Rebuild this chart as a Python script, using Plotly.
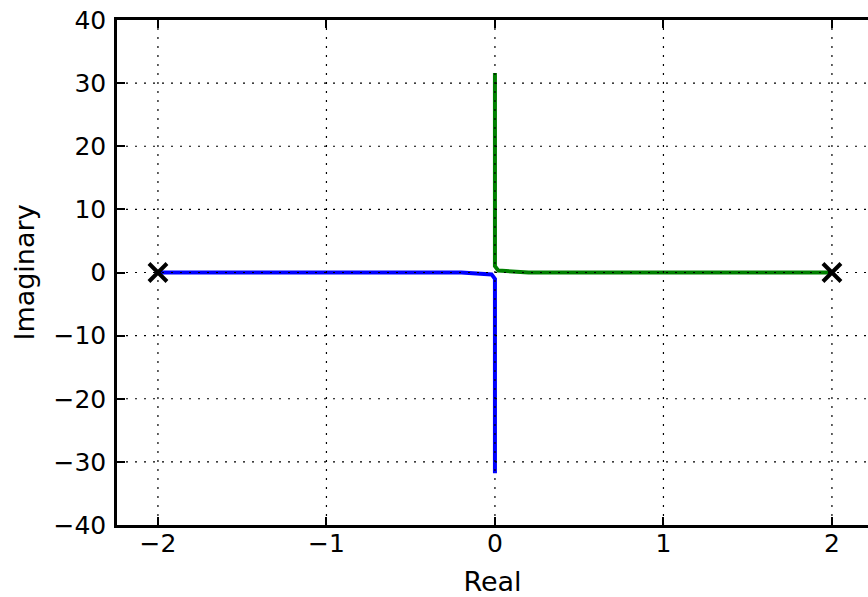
import plotly.graph_objects as go

# Root locus branches (real, imaginary)
blue_re = [-2.0, -1.0, -0.2, -0.02, 0.0, 0.0]
blue_im = [0.0, 0.0, 0.0, -0.3, -1.0, -31.8]
green_re = [2.0, 1.0, 0.2, 0.02, 0.0, 0.0]
green_im = [0.0, 0.0, 0.0, 0.3, 1.0, 31.6]
pole_re = [-2.0, 2.0]
pole_im = [0.0, 0.0]

x_ticks = [-2, -1, 0, 1, 2]
x_labels = ["\u22122", "\u22121", "0", "1", "2"]
y_ticks = [-40, -30, -20, -10, 0, 10, 20, 30, 40]
y_labels = ["\u221240", "\u221230", "\u221220", "\u221210", "0", "10", "20", "30", "40"]

x_range = [-2.243, 2.214]
y_range = [-40, 40]

fig = go.Figure()
fig.add_trace(go.Scatter(x=blue_re, y=blue_im, mode="lines",
                         line=dict(color="#0000ff", width=4), showlegend=False))
fig.add_trace(go.Scatter(x=green_re, y=green_im, mode="lines",
                         line=dict(color="#008000", width=4), showlegend=False))
fig.add_trace(go.Scatter(x=pole_re, y=pole_im, mode="markers",
                         marker=dict(symbol="x-thin", size=18, color="black",
                                     line=dict(color="black", width=4)),
                         showlegend=False, cliponaxis=False))

# grid drawn above the data (dotted)
for xv in x_ticks:
    if x_range[0] < xv < x_range[1]:
        fig.add_shape(type="line", xref="x", yref="paper", x0=xv, x1=xv, y0=0, y1=1,
                      line=dict(color="black", width=1.2, dash="2px,7px"), layer="above")
for yv in y_ticks:
    if y_range[0] < yv < y_range[1]:
        fig.add_shape(type="line", xref="paper", yref="y", x0=0, x1=1, y0=yv, y1=yv,
                      line=dict(color="black", width=1.2, dash="2px,7px"), layer="above")

tick_font = dict(family="DejaVu Sans", size=25, color="black")
title_font = dict(family="DejaVu Sans", size=27, color="black")
fig.update_layout(
    width=868, height=597,
    margin=dict(l=117, r=0, t=20, b=72),
    paper_bgcolor="white", plot_bgcolor="white",
    font=tick_font,
    xaxis=dict(range=x_range, tickvals=x_ticks, ticktext=x_labels,
               showgrid=False, zeroline=False, showline=True, linecolor="black",
               linewidth=2.5, mirror="ticks", ticks="inside", ticklen=8, tickwidth=2,
               tickcolor="black", tickfont=tick_font, layer="above traces",
               automargin=False, ticklabelstandoff=-6, ticklabeloverflow="allow",
               title=dict(text="Real", font=title_font, standoff=19)),
    yaxis=dict(range=y_range, tickvals=y_ticks, ticktext=y_labels,
               showgrid=False, zeroline=False, showline=True, linecolor="black",
               linewidth=2.5, mirror=False, ticks="inside", ticklen=8, tickwidth=2,
               tickcolor="black", tickfont=tick_font, layer="above traces",
               automargin=False, ticklabelstandoff=3, ticklabeloverflow="allow",
               title=dict(text="Imaginary", font=title_font, standoff=12)),
)
fig.write_html("out.html", config={"displayModeBar": False},
               post_script="document.body.style.margin='0';document.body.style.overflow='hidden';")
